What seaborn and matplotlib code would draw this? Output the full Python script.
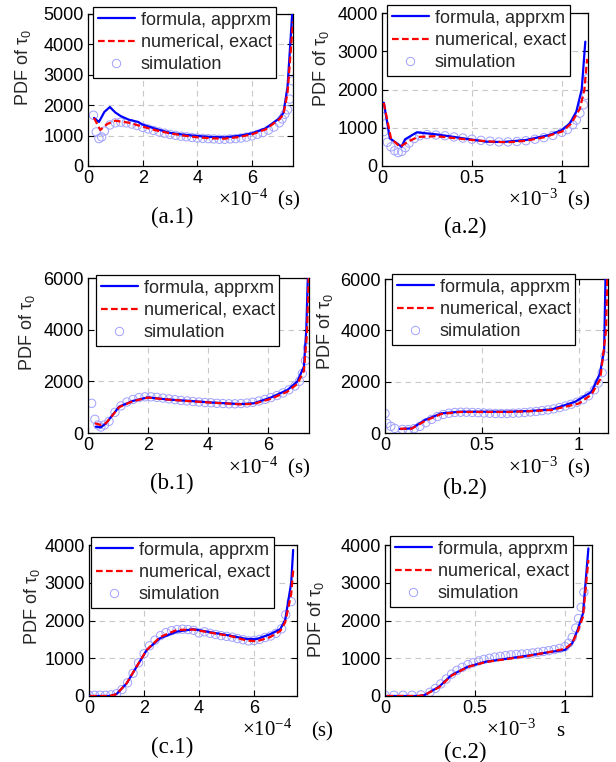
import matplotlib
matplotlib.use("Agg")
import matplotlib.pyplot as plt
from matplotlib.lines import Line2D
import seaborn as sns

# ---- data (x in units of 1e-4 s for column 1, 1e-3 s for column 2) ----
a1_fx = [0.22, 0.4, 0.6, 0.8, 1.0, 1.2, 1.5, 1.83, 2.0, 2.5, 3.0, 3.5, 4.0, 4.5, 5.0, 5.5, 6.0, 6.5, 7.0, 7.15, 7.3, 7.47]
a1_fy = [1580, 1450, 1780, 1940, 1760, 1640, 1520, 1450, 1360, 1217, 1090, 1030, 987, 955, 943, 990, 1075, 1240, 1570, 1750, 2600, 5000]
a1_nx = [0.22, 0.45, 0.7, 1.0, 1.5, 2.0, 2.5, 3.0, 3.5, 4.0, 4.5, 5.0, 5.5, 6.0, 6.5, 7.0, 7.15, 7.3, 7.5]
a1_ny = [1580, 1184, 1380, 1490, 1425, 1294, 1170, 1075, 1000, 943, 910, 899, 950, 1042, 1206, 1535, 1700, 2400, 4750]
a1_sx = [0.2, 0.3, 0.4, 0.5, 0.6, 0.8, 1.0, 1.2, 1.4, 1.6, 1.8, 2.0, 2.2, 2.4, 2.6, 2.8, 3.0, 3.2, 3.4, 3.6,
         3.8, 4.0, 4.2, 4.4, 4.6, 4.8, 5.0, 5.2, 5.4, 5.6, 5.8, 6.0, 6.2, 6.4, 6.6, 6.8, 7.0, 7.1, 7.2, 7.3, 7.38, 7.48]
a1_sy = [1670, 1120, 900, 955, 1150, 1350, 1420, 1440, 1420, 1380, 1330, 1270, 1220, 1170, 1120, 1080, 1040, 1010, 980, 960,
         940, 920, 910, 900, 890, 880, 880, 890, 900, 920, 950, 990, 1040, 1100, 1180, 1280, 1420, 1550, 1700, 1850, 2200, 2800]

a2_fx = [0.01, 0.044, 0.109, 0.128, 0.193, 0.3, 0.4, 0.49, 0.58, 0.67, 0.8, 0.93, 1.0, 1.044, 1.08, 1.11, 1.13]
a2_fy = [1655, 723, 505, 697, 880, 828, 760, 697, 636, 627, 680, 810, 940, 1115, 1420, 2000, 3250]
a2_nx = [0.01, 0.05, 0.1, 0.15, 0.2, 0.3, 0.4, 0.5, 0.6, 0.7, 0.8, 0.9, 1.0, 1.05, 1.1, 1.125, 1.14]
a2_ny = [1650, 720, 500, 650, 760, 780, 730, 680, 640, 620, 660, 750, 900, 1100, 1500, 2000, 2800]
a2_sx = [0.0, 0.01, 0.03, 0.05, 0.07, 0.09, 0.11, 0.13, 0.15, 0.18, 0.21, 0.25, 0.3, 0.35, 0.4, 0.45, 0.5, 0.55,
         0.6, 0.65, 0.7, 0.75, 0.8, 0.85, 0.9, 0.95, 1.0, 1.03, 1.06, 1.08, 1.1, 1.12, 1.135, 1.145]
a2_sy = [1300, 900, 620, 500, 400, 350, 380, 480, 600, 720, 790, 820, 810, 790, 760, 730, 700, 670,
         650, 630, 630, 640, 660, 700, 740, 800, 880, 950, 1080, 1200, 1380, 1600, 1850, 2300]

b1_fx = [0.26, 0.43, 0.6, 1.04, 1.49, 2.0, 2.62, 3.4, 4.19, 5.08, 5.53, 6.09, 6.65, 6.98, 7.2, 7.28, 7.33]
b1_fy = [245, 220, 375, 1020, 1240, 1380, 1300, 1240, 1175, 1120, 1150, 1370, 1665, 1990, 2570, 4000, 6000]
b1_nx = [0.23, 0.43, 0.6, 1.04, 1.49, 2.0, 2.62, 3.4, 4.19, 5.08, 5.53, 6.09, 6.65, 6.98, 7.2, 7.3, 7.36]
b1_ny = [375, 310, 380, 1000, 1230, 1370, 1300, 1230, 1170, 1110, 1130, 1320, 1600, 1900, 2400, 3800, 6000]
b1_sx = [0.12, 0.23, 0.33, 0.43, 0.55, 0.7, 0.9, 1.1, 1.3, 1.5, 1.7, 1.9, 2.1, 2.3, 2.5, 2.7, 2.9, 3.1, 3.3, 3.5,
         3.7, 3.9, 4.1, 4.3, 4.5, 4.7, 4.9, 5.1, 5.3, 5.5, 5.7, 5.9, 6.1, 6.3, 6.5, 6.7, 6.9, 7.05, 7.15, 7.25, 7.32]
b1_sy = [1150, 530, 310, 230, 310, 450, 800, 1050, 1200, 1300, 1370, 1400, 1400, 1380, 1350, 1320, 1290, 1260, 1240, 1220,
         1200, 1180, 1170, 1150, 1140, 1130, 1130, 1140, 1160, 1190, 1240, 1300, 1370, 1450, 1550, 1670, 1820, 2000, 2300, 2800, 3300]

b2_fx = [0.077, 0.138, 0.206, 0.29, 0.387, 0.5, 0.636, 0.74, 0.86, 0.98, 1.065, 1.108, 1.13, 1.137]
b2_fy = [155, 180, 505, 765, 830, 830, 830, 855, 920, 1215, 1600, 2310, 3215, 6000]
b2_nx = [0.077, 0.138, 0.206, 0.29, 0.387, 0.5, 0.636, 0.74, 0.86, 1.0, 1.065, 1.11, 1.14, 1.146]
b2_ny = [165, 170, 470, 740, 820, 820, 820, 845, 900, 1150, 1500, 2100, 4000, 6000]
b2_sx = [0.0, 0.01, 0.03, 0.05, 0.09, 0.12, 0.15, 0.18, 0.21, 0.24, 0.27, 0.3, 0.33, 0.36, 0.39, 0.42, 0.45, 0.48,
         0.51, 0.54, 0.57, 0.6, 0.63, 0.66, 0.69, 0.72, 0.75, 0.78, 0.81, 0.84, 0.87, 0.9, 0.93, 0.96, 0.99, 1.02,
         1.05, 1.08, 1.1, 1.12, 1.135]
b2_sy = [760, 375, 260, 180, 140, 130, 170, 260, 400, 530, 640, 720, 770, 800, 810, 810, 800, 790,
         780, 770, 760, 760, 760, 770, 780, 800, 820, 840, 870, 900, 940, 990, 1050, 1120, 1200, 1300,
         1450, 1680, 1950, 2350, 3000]

c1_fx = [0.04, 0.76, 1.0, 1.37, 1.73, 2.1, 2.58, 3.19, 3.8, 4.4, 5.13, 5.73, 6.1, 6.58, 6.95, 7.13, 7.35, 7.42]
c1_fy = [0, 0, 50, 335, 775, 1220, 1530, 1705, 1770, 1690, 1600, 1510, 1510, 1635, 1770, 2015, 3000, 3870]
c1_nx = [0.04, 0.76, 1.0, 1.37, 1.73, 2.1, 2.58, 3.19, 3.8, 4.4, 5.13, 5.73, 6.1, 6.58, 6.95, 7.13, 7.35, 7.43]
c1_ny = [0, 0, 50, 340, 780, 1220, 1560, 1750, 1760, 1680, 1590, 1470, 1450, 1560, 1720, 1950, 2700, 3400]
c1_sx = [0.0, 0.2, 0.4, 0.6, 0.8, 1.0, 1.2, 1.4, 1.6, 1.8, 2.0, 2.2, 2.4, 2.6, 2.8, 3.0, 3.2, 3.4, 3.6, 3.8,
         4.0, 4.2, 4.4, 4.6, 4.8, 5.0, 5.2, 5.4, 5.6, 5.8, 6.0, 6.2, 6.4, 6.6, 6.8, 7.0, 7.15, 7.35]
c1_sy = [20, 20, 20, 20, 30, 60, 170, 350, 600, 880, 1120, 1330, 1480, 1600, 1680, 1730, 1760, 1770, 1760, 1740,
         1670, 1700, 1660, 1630, 1600, 1580, 1560, 1520, 1490, 1460, 1470, 1500, 1550, 1590, 1660, 1780, 2150, 2500]

c2_fx = [0.01, 0.185, 0.22, 0.3, 0.37, 0.46, 0.56, 0.65, 0.78, 0.93, 1.0, 1.04, 1.07, 1.1, 1.13]
c2_fy = [0, 0, 25, 245, 555, 775, 910, 970, 1060, 1175, 1220, 1395, 1750, 2190, 3910]
c2_nx = [0.01, 0.185, 0.22, 0.3, 0.37, 0.46, 0.56, 0.65, 0.78, 0.93, 1.0, 1.04, 1.07, 1.1, 1.13]
c2_ny = [0, 0, 25, 230, 540, 770, 900, 960, 1050, 1180, 1250, 1400, 1700, 2100, 3600]
c2_sx = [0.0, 0.05, 0.1, 0.15, 0.2, 0.25, 0.28, 0.31, 0.34, 0.37, 0.4, 0.43, 0.46, 0.49, 0.52, 0.55, 0.58,
         0.61, 0.64, 0.67, 0.7, 0.73, 0.76, 0.79, 0.82, 0.85, 0.88, 0.91, 0.94, 0.97, 1.0, 1.02, 1.04,
         1.06, 1.075, 1.09, 1.105]
c2_sy = [20, 20, 20, 20, 30, 100, 200, 320, 450, 580, 680, 760, 830, 880, 930, 970, 1000,
         1030, 1050, 1070, 1090, 1100, 1110, 1120, 1140, 1160, 1180, 1200, 1230, 1260, 1310, 1400, 1550,
         1800, 2050, 2350, 2750]

labels = ["formula, apprxm", "numerical, exact", "simulation"]

sns.set_style("ticks")
plt.rcParams['font.family'] = ['Liberation Sans', 'DejaVu Sans']
plt.rcParams['mathtext.default'] = 'regular'

W, H = 616, 762
fig = plt.figure(figsize=(W / 100, H / 100), dpi=100)

BLUE = '#0000ff'
RED = '#ff0000'
SIM = '#a0a0ff'

panels = [
    # fx, fy, nx, ny, sx, sy, axes box px (l, r, t, b), xmax, xticks, ymax, yticks, legend corner px, ylabel centre px
    (a1_fx, a1_fy, a1_nx, a1_ny, a1_sx, a1_sy, (88, 293, 14, 166), 7.5, [0, 2, 4, 6], 5000, range(0, 5001, 1000), (93, 7), (23, 68)),
    (a2_fx, a2_fy, a2_nx, a2_ny, a2_sx, a2_sy, (382, 588, 13, 166), 1.145, [0, 0.5, 1], 4000, range(0, 4001, 1000), (387, 5), (321, 69)),
    (b1_fx, b1_fy, b1_nx, b1_ny, b1_sx, b1_sy, (88, 309, 278, 433), 7.37, [0, 2, 4, 6], 6000, range(0, 6001, 2000), (96, 275), (27, 333)),
    (b2_fx, b2_fy, b2_nx, b2_ny, b2_sx, b2_sy, (385, 608, 279, 433), 1.15, [0, 0.5, 1], 6000, range(0, 6001, 2000), (392, 274), (325, 332)),
    (c1_fx, c1_fy, c1_nx, c1_ny, c1_sx, c1_sy, (89, 297, 545, 696), 7.56, [0, 2, 4, 6], 4000, range(0, 4001, 1000), (91, 537), (32, 607)),
    (c2_fx, c2_fy, c2_nx, c2_ny, c2_sx, c2_sy, (385, 592, 545, 696), 1.15, [0, 0.5, 1], 4000, range(0, 4001, 1000), (390, 536), (316, 620)),
]

handles = [
    Line2D([], [], color=BLUE, lw=1.6),
    Line2D([], [], color=RED, lw=1.6, linestyle=(0, (3, 1.5))),
    Line2D([], [], color=SIM, marker='o', markerfacecolor='none', markersize=6, markeredgewidth=0.7, linestyle='none'),
]

for fx, fy, nx, ny, sx, sy, box, xmax, xt, ymax, yt, lg, yl in panels:
    l, r, t, b = box
    ax = fig.add_axes([l / W, 1 - b / H, (r - l) / W, (b - t) / H])
    ax.grid(True, linestyle=(0, (5, 4)), color='#c8c8c8', linewidth=0.8)
    sns.scatterplot(x=sx, y=sy, ax=ax, marker='o', s=36, facecolors='none',
                    edgecolor=SIM, linewidth=0.7, legend=False, zorder=2)
    sns.lineplot(x=fx, y=fy, ax=ax, color=BLUE, linewidth=1.6, estimator=None, sort=False, legend=False, zorder=3)
    sns.lineplot(x=nx, y=ny, ax=ax, color=RED, linewidth=1.6, linestyle=(0, (3, 1.5)),
                 estimator=None, sort=False, legend=False, zorder=4)
    ax.set_xlim(0, xmax)
    ax.set_ylim(0, ymax)
    ax.set_xticks(xt)
    ax.set_xticklabels([f"{v:g}" for v in xt])
    ax.set_yticks(list(yt))
    ax.tick_params(direction='in', top=True, right=True, length=4, width=0.8, labelsize=13, pad=3, colors='black')
    for s in ax.spines.values():
        s.set_visible(True)
        s.set_linewidth(0.9)
        s.set_color('black')
    ax.set_xlabel('')
    ax.set_ylabel('')
    leg = ax.legend(handles, labels, loc='upper left', bbox_to_anchor=(lg[0] / W, 1 - lg[1] / H),
                    bbox_transform=fig.transFigure, borderaxespad=0, fontsize=13, frameon=True,
                    fancybox=False, framealpha=1, edgecolor='black', handlelength=2.1,
                    handletextpad=0.3, labelspacing=0.3, borderpad=0.25)
    leg.get_frame().set_linewidth(0.9)
    leg.set_zorder(10)
    fig.text(yl[0] / W, 1 - yl[1] / H, 'PDF of τ$_0$', rotation=90,
             ha='center', va='center', fontsize=13)

serif = dict(family='Liberation Serif', fontsize=15, math_fontfamily='stix', color='black')
cap = dict(serif, fontsize=16.5)
# axis unit labels and panel captions
fig.text(218 / W, 1 - 205 / H, r'$\times10^{-4}$  (s)', ha='left', va='baseline', **serif)
fig.text(172 / W, 1 - 217 / H, '(a.1)', ha='center', va='center', **cap)
fig.text(508 / W, 1 - 205 / H, r'$\times10^{-3}$  (s)', ha='left', va='baseline', **serif)
fig.text(465 / W, 1 - 227 / H, '(a.2)', ha='center', va='center', **cap)
fig.text(228 / W, 1 - 473 / H, r'$\times10^{-4}$  (s)', ha='left', va='baseline', **serif)
fig.text(172 / W, 1 - 483 / H, '(b.1)', ha='center', va='center', **cap)
fig.text(508 / W, 1 - 473 / H, r'$\times10^{-3}$  (s)', ha='left', va='baseline', **serif)
fig.text(465 / W, 1 - 488 / H, '(b.2)', ha='center', va='center', **cap)
fig.text(242 / W, 1 - 736 / H, r'$\times10^{-4}$', ha='left', va='baseline', **serif)
fig.text(311 / W, 1 - 736 / H, '(s)', ha='left', va='baseline', **serif)
fig.text(172 / W, 1 - 747 / H, '(c.1)', ha='center', va='center', **cap)
fig.text(486 / W, 1 - 736 / H, r'$\times10^{-3}$', ha='left', va='baseline', **serif)
fig.text(556 / W, 1 - 736 / H, 's', ha='left', va='baseline', **serif)
fig.text(465 / W, 1 - 752 / H, '(c.2)', ha='center', va='center', **cap)

fig.savefig('out.png', dpi=100, facecolor='white')
